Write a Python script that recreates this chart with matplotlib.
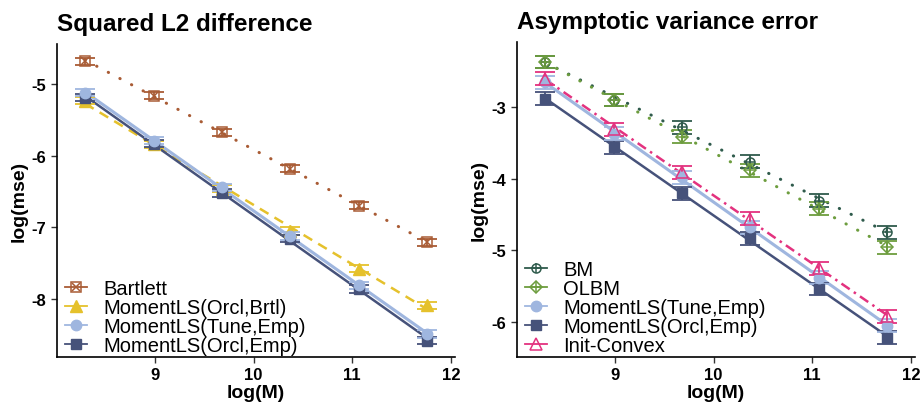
import matplotlib
matplotlib.use("Agg")
import matplotlib.pyplot as plt
from matplotlib.lines import Line2D
import numpy as np

plt.rcParams['font.family'] = ['Liberation Sans', 'DejaVu Sans']

# log(M) for M = 4000 ... 128000
log_m = np.log([4000, 8000, 16000, 32000, 64000, 128000])

# left panel: squared L2 difference, log(mse)
l2_bartlett = [-4.68, -5.16, -5.67, -6.18, -6.70, -7.21]
l2_orcl_brtl = [-5.23, -5.84, -6.46, -7.05, -7.58, -8.09]
l2_tune_emp = [-5.12, -5.79, -6.44, -7.12, -7.81, -8.49]
l2_orcl_emp = [-5.19, -5.83, -6.52, -7.16, -7.86, -8.58]
l2_err = [0.05, 0.05, 0.05, 0.05, 0.05, 0.05]

# right panel: asymptotic variance error, log(mse)
av_bm = [-2.37, -2.90, -3.28, -3.76, -4.31, -4.75]
av_olbm = [-2.37, -2.90, -3.41, -3.88, -4.42, -4.96]
av_tune_emp = [-2.65, -3.37, -3.98, -4.68, -5.38, -6.05]
av_orcl_emp = [-2.88, -3.56, -4.20, -4.83, -5.54, -6.22]
av_init_convex = [-2.60, -3.31, -3.91, -4.56, -5.25, -5.92]
av_err = [0.09, 0.09, 0.09, 0.09, 0.09, 0.09]

BROWN = "#a95c35"
YELLOW = "#e5c12c"
LIGHTBLUE = "#9fb6df"
NAVY = "#46527a"
DKGREEN = "#2f5b4c"
LTGREEN = "#6d9d3e"
PINK = "#e3327f"

DOTTED = (0, (0.1, 4.2))


def draw_series(ax, x, y, err, color, ls, lw, markers, label, mfill=True):
    # error bars
    ax.errorbar(x, y, yerr=err, fmt='none', ecolor=color, elinewidth=1.3,
                capsize=7.5, capthick=1.3, zorder=3)
    # fitted line
    k, b = np.polyfit(x, y, 1)
    xs = np.array([x[0], x[-1]])
    ax.plot(xs, k * xs + b, color=color, linestyle=ls, linewidth=lw, zorder=2,
            dash_capstyle='round' if ls == DOTTED else 'butt')
    for m, ms in markers:
        if mfill:
            ax.plot(x, y, linestyle='none', marker=m, markersize=ms, color=color, zorder=4)
        else:
            ax.plot(x, y, linestyle='none', marker=m, markersize=ms, markerfacecolor='none',
                    markeredgecolor=color, markeredgewidth=1.1, zorder=4)
    handles = [Line2D([], [], color=color, linewidth=1.3)]
    for m, ms in markers:
        if mfill:
            handles.append(Line2D([], [], linestyle='none', marker=m, markersize=ms, color=color))
        else:
            handles.append(Line2D([], [], linestyle='none', marker=m, markersize=ms,
                                  markerfacecolor='none', markeredgecolor=color,
                                  markeredgewidth=1.1))
    return tuple(handles), label


def style_axes(ax, title, ylim, yticks):
    ax.set_xlim(8.01, 12.04)
    ax.set_ylim(*ylim)
    ax.set_xticks([9, 10, 11, 12])
    ax.set_yticks(yticks)
    ax.set_yticklabels([f"{t}" for t in yticks])
    for s in ['top', 'right']:
        ax.spines[s].set_visible(False)
    for s in ['left', 'bottom']:
        ax.spines[s].set_linewidth(1.2)
    ax.tick_params(labelsize=12, width=1.0, length=4, color='#333333')
    for lab in ax.get_xticklabels() + ax.get_yticklabels():
        lab.set_fontweight('bold')
    ax.set_xlabel("log(M)", fontsize=14, fontweight='bold', labelpad=1)
    ax.set_ylabel("log(mse)", fontsize=14, fontweight='bold', labelpad=3)
    ax.set_title(title, fontsize=17.5, fontweight='bold', loc='left', pad=10)


fig = plt.figure(figsize=(9.21, 4.06), dpi=100)
ax1 = fig.add_axes([57 / 921, 1 - 358 / 406, 398 / 921, 313 / 406])
ax2 = fig.add_axes([517 / 921, 1 - 358 / 406, 398 / 921, 315 / 406])

h = []
h.append(draw_series(ax1, log_m, l2_bartlett, l2_err, BROWN, DOTTED, 2.2,
                     [('s', 7), ('x', 5.5)], "Bartlett", mfill=False))
h.append(draw_series(ax1, log_m, l2_orcl_brtl, l2_err, YELLOW, (0, (4, 2.8)), 1.8,
                     [('^', 9)], "MomentLS(Orcl,Brtl)"))
h.append(draw_series(ax1, log_m, l2_orcl_emp, l2_err, NAVY, '-', 1.8,
                     [('s', 6.5)], "MomentLS(Orcl,Emp)"))
h.append(draw_series(ax1, log_m, l2_tune_emp, l2_err, LIGHTBLUE, '-', 2.2,
                     [('o', 7.5)], "MomentLS(Tune,Emp)"))
order = [0, 1, 3, 2]
ax1.legend([h[i][0] for i in order], [h[i][1] for i in order], loc='lower left',
           frameon=False, fontsize=14.5, handlelength=1.1, handletextpad=0.8,
           labelspacing=0.0, borderaxespad=0.0, bbox_to_anchor=(0.0, -0.02))
style_axes(ax1, "Squared L2 difference", (-8.81, -4.44), [-5, -6, -7, -8])

h = []
h.append(draw_series(ax2, log_m, av_bm, av_err, DKGREEN, DOTTED, 2.2,
                     [('o', 6.5), ('+', 7)], "BM", mfill=False))
h.append(draw_series(ax2, log_m, av_olbm, av_err, LTGREEN, DOTTED, 2.2,
                     [('D', 6.5), ('+', 9)], "OLBM", mfill=False))
h.append(draw_series(ax2, log_m, av_orcl_emp, av_err, NAVY, '-', 1.8,
                     [('s', 6.5)], "MomentLS(Orcl,Emp)"))
h.append(draw_series(ax2, log_m, av_tune_emp, av_err, LIGHTBLUE, '-', 2.2,
                     [('o', 7.5)], "MomentLS(Tune,Emp)"))
h.append(draw_series(ax2, log_m, av_init_convex, av_err, PINK, (0, (4, 2, 1, 2)), 1.8,
                     [('^', 8.5)], "Init-Convex", mfill=False))
order = [0, 1, 3, 2, 4]
ax2.legend([h[i][0] for i in order], [h[i][1] for i in order], loc='lower left',
           frameon=False, fontsize=14.5, handlelength=1.1, handletextpad=0.8,
           labelspacing=0.0, borderaxespad=0.0, bbox_to_anchor=(0.0, -0.02))
style_axes(ax2, "Asymptotic variance error", (-6.49, -2.09), [-3, -4, -5, -6])

fig.savefig("out.png", dpi=100)
